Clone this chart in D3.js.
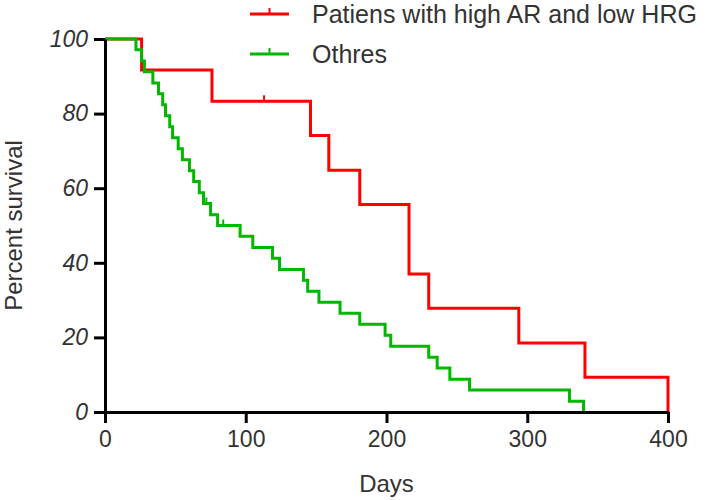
<!DOCTYPE html>
<html>
<head>
<meta charset="utf-8">
<script src="https://cdn.jsdelivr.net/npm/d3@7"></script>
<style>
  body { margin: 0; background: #fff; }
  svg text { font-family: "Liberation Sans", Arial, sans-serif; fill: #333; }
</style>
</head>
<body>
<script>
// Kaplan-Meier steps (days, percent survival)
var redTimes = [0, 26, 76, 146, 159, 181, 216, 230, 294, 341, 400];
var redSurv = [100, 91.7, 83.3, 74.1, 64.8, 55.6, 37.0, 27.8, 18.5, 9.3, 0];
var redCensor = [113];

var greenTimes = [0, 22, 26, 28, 34, 38, 41, 43, 46, 48, 52, 55, 60, 63, 67, 70, 75, 80,
                  96, 105, 119, 124, 141, 144, 152, 167, 181, 199, 203, 230, 236, 245, 259, 330, 340];
var greenSurv = [100, 97.1, 94.1, 91.2, 88.2, 85.3, 82.4, 79.4, 76.5, 73.5, 70.6, 67.6, 64.7, 61.8, 58.8, 55.9, 52.9, 50.0,
                 47.1, 44.1, 41.2, 38.2, 35.3, 32.4, 29.4, 26.5, 23.5, 20.6, 17.6, 14.7, 11.8, 8.8, 5.9, 2.9, 0];
var greenCensor = [72, 84];

var seriesNames = ["Patiens with high AR and low HRG", "Othres"];
var seriesColors = ["#ff0000", "#00b800"];
var xTicks = [0, 100, 200, 300, 400];
var yTicks = [0, 20, 40, 60, 80, 100];

var width = 714, height = 500;
var margin = {top: 39, right: 46, bottom: 88, left: 105};

var svg = d3.select("body").append("svg")
    .attr("width", width)
    .attr("height", height);

var x = d3.scaleLinear().domain([0, 400]).range([margin.left, width - margin.right]);
var y = d3.scaleLinear().domain([0, 100]).range([height - margin.bottom, margin.top]);

function toPoints(times, surv) {
    return times.map(function(t, i) { return {t: t, s: surv[i]}; });
}

// survival value at a given time (for censor marks)
function survAt(times, surv, t) {
    var v = surv[0];
    for (var i = 0; i < times.length; i++) { if (times[i] <= t) v = surv[i]; }
    return v;
}

var series = [
    {name: seriesNames[0], color: seriesColors[0], pts: toPoints(redTimes, redSurv), times: redTimes, surv: redSurv, censor: redCensor},
    {name: seriesNames[1], color: seriesColors[1], pts: toPoints(greenTimes, greenSurv), times: greenTimes, surv: greenSurv, censor: greenCensor}
];

var line = d3.line()
    .x(function(d) { return x(d.t); })
    .y(function(d) { return y(d.s); })
    .curve(d3.curveStepAfter);

// axes
var xAxis = d3.axisBottom(x).tickValues(xTicks).tickSize(11).tickSizeOuter(0).tickPadding(8);
var yAxis = d3.axisLeft(y).tickValues(yTicks).tickSize(11).tickSizeOuter(0).tickPadding(6);

// curves (red first, green on top like the reference)
series.forEach(function(s) {
    svg.append("path")
        .datum(s.pts)
        .attr("d", line)
        .attr("fill", "none")
        .attr("stroke", s.color)
        .attr("stroke-width", 3);

    svg.selectAll(null)
        .data(s.censor)
        .enter().append("line")
        .attr("x1", function(d) { return x(d); })
        .attr("x2", function(d) { return x(d); })
        .attr("y1", function(d) { return y(survAt(s.times, s.surv, d)); })
        .attr("y2", function(d) { return y(survAt(s.times, s.surv, d)) - 6; })
        .attr("stroke", s.color)
        .attr("stroke-width", 2);
});

var gx = svg.append("g")
    .attr("transform", "translate(0," + y(0) + ")")
    .call(xAxis);
var gy = svg.append("g")
    .attr("transform", "translate(" + x(0) + ",0)")
    .call(yAxis);

[gx, gy].forEach(function(g) {
    g.select(".domain").attr("stroke", "#000").attr("stroke-width", 3);
    g.selectAll(".tick line").attr("stroke", "#000").attr("stroke-width", 3);
    g.selectAll(".tick text").attr("fill", "#333").style("font-size", "23px")
        .style("font-family", "'Liberation Sans', Arial, sans-serif");
});
gy.selectAll(".tick text").style("font-style", "italic");

// axis titles
svg.append("text")
    .attr("x", (x(0) + x(400)) / 2)
    .attr("y", 492)
    .attr("text-anchor", "middle")
    .style("font-size", "24px")
    .text("Days");

svg.append("text")
    .attr("transform", "translate(22," + ((y(0) + y(100)) / 2) + ") rotate(-90)")
    .attr("text-anchor", "middle")
    .style("font-size", "24px")
    .text("Percent survival");

// legend
var legend = svg.selectAll(".legend")
    .data(series)
    .enter().append("g")
    .attr("class", "legend")
    .attr("transform", function(d, i) { return "translate(250," + (14 + i * 40) + ")"; });

legend.append("line")
    .attr("x1", 0).attr("x2", 39)
    .attr("y1", 0).attr("y2", 0)
    .attr("stroke", function(d) { return d.color; })
    .attr("stroke-width", 3);

legend.append("line")
    .attr("x1", 19.5).attr("x2", 19.5)
    .attr("y1", 0).attr("y2", -6)
    .attr("stroke", function(d) { return d.color; })
    .attr("stroke-width", 2);

legend.append("text")
    .attr("x", 62)
    .attr("y", 0)
    .attr("dy", "0.35em")
    .style("font-size", "25px")
    .text(function(d) { return d.name; });
</script>
</body>
</html>
